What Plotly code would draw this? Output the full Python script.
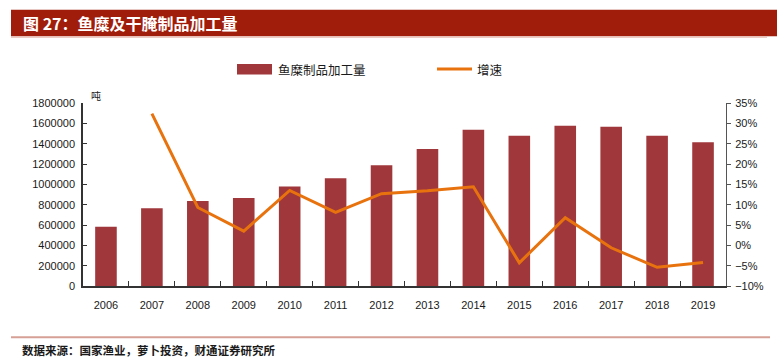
import plotly.graph_objects as go

years = ["2006", "2007", "2008", "2009", "2010", "2011", "2012",
         "2013", "2014", "2015", "2016", "2017", "2018", "2019"]
output_tons = [582000, 765000, 837000, 866000, 978000, 1059000, 1187000,
               1347000, 1537000, 1478000, 1576000, 1566000, 1478000, 1415000]
growth_pct = [None, 32.4, 9.3, 3.5, 13.5, 8.1, 12.7,
              13.4, 14.4, -4.3, 6.8, -0.6, -5.4, -4.2]

bar_name = "鱼糜制品加工量"
line_name = "增速"
title_text = "图 27：鱼糜及干腌制品加工量"
source_text = "数据来源：国家渔业，萝卜投资，财通证券研究所"
unit_text = "吨"

W, H = 781, 358
L, R, T, B = 83, 726, 102.5, 286

BAR_COLOR = "#A0373A"
LINE_COLOR = "#E8730E"
TEXT = "#1a1a1a"
CJK = "Noto Sans CJK SC"
LAT = "Liberation Sans, Arial, sans-serif"


def px(x):
    return (x - L) / (R - L)


def py(y):
    return (B - y) / (B - T)


fig = go.Figure()
fig.add_trace(go.Bar(x=years, y=output_tons, name=bar_name,
                     marker=dict(color=BAR_COLOR, line=dict(width=0)),
                     width=0.47, showlegend=False))
fig.add_trace(go.Scatter(x=years, y=growth_pct, name=line_name, yaxis="y2",
                         mode="lines", line=dict(color=LINE_COLOR, width=3),
                         connectgaps=False, showlegend=False))

shapes = [
    # title bar
    dict(type="rect", xref="paper", yref="paper", x0=px(11), x1=px(777),
         y0=py(35.5), y1=py(9), fillcolor="#A01D0B", line=dict(width=0), layer="above"),
    dict(type="line", xref="paper", yref="paper", x0=px(11), x1=px(767),
         y0=py(36.5), y1=py(36.5), line=dict(color="#E3B3AA", width=1)),
    # footer line
    dict(type="line", xref="paper", yref="paper", x0=px(11), x1=px(770),
         y0=py(337.5), y1=py(337.5), line=dict(color="#D6A096", width=2)),
    # legend swatches
    dict(type="rect", xref="paper", yref="paper", x0=px(237), x1=px(272),
         y0=py(74), y1=py(63.5), fillcolor=BAR_COLOR, line=dict(width=0)),
    dict(type="line", xref="paper", yref="paper", x0=px(437), x1=px(472),
         y0=py(68.3), y1=py(68.3), line=dict(color=LINE_COLOR, width=3)),
]

annotations = [
    dict(text=title_text, xref="paper", yref="paper", x=px(21), y=py(22.5),
         xanchor="left", yanchor="middle", showarrow=False,
         font=dict(family=CJK, size=16, color="white", weight="bold")),
    dict(text=source_text, xref="paper", yref="paper", x=px(20), y=py(350),
         xanchor="left", yanchor="middle", showarrow=False,
         font=dict(family=CJK, size=11.5, color=TEXT, weight="bold")),
    dict(text=bar_name, xref="paper", yref="paper", x=px(276), y=py(69),
         xanchor="left", yanchor="middle", showarrow=False,
         font=dict(family=CJK, size=12.5, color=TEXT)),
    dict(text=line_name, xref="paper", yref="paper", x=px(475), y=py(68.5),
         xanchor="left", yanchor="middle", showarrow=False,
         font=dict(family=CJK, size=12.5, color=TEXT)),
    dict(text=unit_text, xref="paper", yref="paper", x=px(89), y=py(95),
         xanchor="left", yanchor="middle", showarrow=False,
         font=dict(family=CJK, size=10, color=TEXT)),
]

fig.update_layout(
    width=W, height=H,
    margin=dict(l=L, r=W - R, t=T, b=H - B, pad=0),
    paper_bgcolor="white", plot_bgcolor="white",
    showlegend=False,
    bargap=0.5,
    font=dict(family=LAT, size=11, color=TEXT),
    xaxis=dict(type="category", showline=True, linecolor="#333", linewidth=1.5,
               ticks="inside", ticklen=5, tickcolor="#333", tickson="boundaries",
               showgrid=False, tickfont=dict(family=LAT, size=11, color=TEXT),
               ticklabelstandoff=8),
    yaxis=dict(range=[0, 1800000], dtick=200000, tickformat="d",
               showline=True, linecolor="#333", linewidth=1.5,
               ticks="inside", ticklen=4, tickcolor="#333", showgrid=False,
               zeroline=False, tickfont=dict(family=LAT, size=11, color=TEXT),
               ticklabelstandoff=4),
    yaxis2=dict(range=[-10, 35], dtick=5, ticksuffix="%", overlaying="y",
                side="right", showline=True, linecolor="#555", linewidth=1,
                ticks="outside", ticklen=4, tickcolor="#555", showgrid=False,
                zeroline=False, tickfont=dict(family=LAT, size=11, color=TEXT),
                ticklabelstandoff=2),
    shapes=shapes,
    annotations=annotations,
)

fig.write_html("out.html",
               config={"displayModeBar": False},
               post_script="document.body.style.margin='0';document.body.style.overflow='hidden';")
